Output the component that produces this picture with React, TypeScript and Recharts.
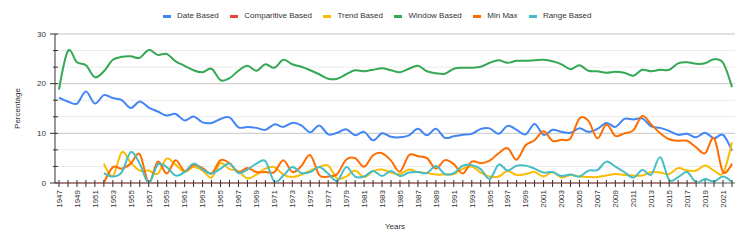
import React from 'react';
import { LineChart, Line, XAxis, YAxis, CartesianGrid, ReferenceLine } from 'recharts';

const FONT = "'Liberation Sans', Arial, Helvetica, sans-serif";

const YEARS = [
  1947, 1948, 1949, 1950, 1951, 1952, 1953, 1954, 1955, 1956,
  1957, 1958, 1959, 1960, 1961, 1962, 1963, 1964, 1965, 1966,
  1967, 1968, 1969, 1970, 1971, 1972, 1973, 1974, 1975, 1976,
  1977, 1978, 1979, 1980, 1981, 1982, 1983, 1984, 1985, 1986,
  1987, 1988, 1989, 1990, 1991, 1992, 1993, 1994, 1995, 1996,
  1997, 1998, 1999, 2000, 2001, 2002, 2003, 2004, 2005, 2006,
  2007, 2008, 2009, 2010, 2011, 2012, 2013, 2014, 2015, 2016,
  2017, 2018, 2019, 2020, 2021, 2022,
];

const DATE_BASED = [
  17.2, 16.4, 16.0, 18.4, 16.0, 17.7, 17.1, 16.7, 15.1, 16.4,
  15.2, 14.4, 13.6, 13.9, 12.6, 13.4, 12.2, 12.1, 12.9, 13.2,
  11.2, 11.3, 11.1, 10.7, 11.8, 11.3, 12.1, 11.6, 10.2, 11.6,
  9.8, 10.1, 10.8, 9.6, 10.3, 8.6, 10.0, 9.3, 9.2, 9.6,
  10.9, 9.6, 10.9, 9.1, 9.4, 9.7, 9.9, 10.9, 11.0, 9.9,
  11.5, 10.7, 9.8, 11.9, 9.7, 10.7, 10.3, 10.1, 11.0, 10.3,
  10.9, 12.1, 11.3, 12.9, 12.8, 13.0, 11.4, 11.1, 10.5, 9.7,
  9.9, 9.2, 10.1, 9.0, 9.7, 6.5,
];

const COMPARITIVE_BASED = [
  0, 0, 0, 0, 0, 0, 0, 0, 0, 0,
  0, 0, 0, 0, 0, 0, 0, 0, 0, 0,
  0, 0, 0, 0, 0, 0, 0, 0, 0, 0,
  0, 0, 0, 0, 0, 0, 0, 0, 0, 0,
  0, 0, 0, 0, 0, 0, 0, 0, 0, 0,
  0, 0, 0, 0, 0, 0, 0, 0, 0, 0,
  0, 0, 0, 0, 0, 0, 0, 0, 0, 0,
  0, 0, null, null, null, null,
];

const TREND_BASED = [
  null, null, null, null, null, 3.9, 1.4, 6.2, 4.1, 2.5,
  2.5, 1.9, 4.9, 3.7, 2.2, 3.2, 2.5, 1.1, 4.0, 2.8,
  2.4, 0.9, 1.7, 2.9, 3.2, 1.7, 1.2, 1.7, 2.5, 3.2,
  3.5, 0.9, 1.3, 2.5, 1.2, 2.4, 2.7, 2.1, 1.8, 2.7,
  2.2, 2.0, 1.7, 1.7, 1.8, 2.9, 3.3, 2.1, 1.3, 1.3,
  2.4, 1.6, 1.8, 2.2, 1.3, 2.2, 1.1, 1.6, 1.3, 1.2,
  1.2, 1.5, 1.8, 1.6, 1.5, 1.5, 2.2, 2.1, 1.8, 3.0,
  2.5, 2.5, 3.5, 2.5, 2.0, 8.2,
];

const WINDOW_BASED = [
  18.8, 26.6, 24.3, 23.7, 21.3, 22.5, 24.8, 25.4, 25.5, 25.2,
  26.8, 25.8, 26.0, 24.5, 23.6, 22.7, 22.3, 23.0, 20.7, 21.1,
  22.6, 23.6, 22.6, 23.9, 23.2, 24.8, 23.9, 23.4, 22.7, 21.9,
  21.0, 21.0, 21.9, 22.7, 22.5, 22.8, 23.1, 22.7, 22.3, 23.0,
  23.6, 22.5, 22.1, 22.0, 23.0, 23.2, 23.2, 23.4, 24.2, 24.7,
  24.2, 24.6, 24.6, 24.7, 24.8, 24.5, 23.9, 22.9, 23.7, 22.6,
  22.5, 22.2, 22.4, 22.2, 21.6, 22.8, 22.5, 22.8, 22.8, 24.1,
  24.3, 24.0, 24.1, 24.9, 24.2, 19.3,
];

const MIN_MAX = [
  null, null, null, null, null, 0, 3.2, 2.9, 3.9, 5.8,
  0.1, 4.3, 1.9, 4.6, 2.4, 3.6, 3.0, 1.9, 4.6, 4.0,
  2.2, 3.0, 2.2, 2.2, 2.2, 4.6, 2.2, 3.4, 5.6, 1.6,
  1.3, 1.8, 4.7, 5.0, 3.3, 5.6, 6.0, 4.5, 2.3, 5.6,
  5.4, 5.0, 2.9, 4.6, 3.8, 1.9, 4.3, 4.0, 4.5, 6.0,
  7.0, 4.7, 7.6, 8.6, 10.4, 8.5, 8.7, 9.0, 13.0, 12.5,
  9.0, 11.8, 9.5, 10.0, 10.6, 13.5, 11.8, 10.0, 8.8, 8.5,
  8.5, 7.2, 6.0, 9.0, 2.2, 3.9,
];

const RANGE_BASED = [
  null, null, null, null, null, 2.0, 1.3, 2.2, 6.2, 3.9,
  0, 3.7, 3.2, 1.5, 2.2, 3.9, 2.7, 1.9, 2.9, 3.9,
  2.0, 2.7, 3.9, 4.4, 0.3, 1.5, 3.2, 2.0, 2.2, 3.2,
  1.9, 0.4, 3.2, 1.3, 1.3, 2.4, 1.4, 2.4, 1.4, 2.1,
  2.2, 2.0, 3.4, 1.8, 2.0, 3.5, 3.6, 2.8, 0.8, 3.7,
  2.5, 3.5, 3.5, 2.9, 2.1, 2.2, 1.4, 1.7, 1.3, 2.5,
  2.6, 4.3, 3.3, 2.2, 1.1, 2.6, 1.7, 5.2, 0.6, 1.2,
  2.2, 0.1, 0.8, 0.3, 1.3, 0.2,
];

const SERIES_NAMES = ['Date Based', 'Comparitive Based', 'Trend Based', 'Window Based', 'Min Max', 'Range Based'];
const SERIES_KEYS = ['date', 'comparitive', 'trend', 'window', 'minmax', 'range'];
const SERIES_COLORS = ['#4285F4', '#EA4335', '#FBBC04', '#34A853', '#FF6D01', '#46BDC6'];
const SERIES_VALUES = [DATE_BASED, COMPARITIVE_BASED, TREND_BASED, WINDOW_BASED, MIN_MAX, RANGE_BASED];

const Y_TICKS = [0, 10 / 3, 20 / 3, 10, 40 / 3, 50 / 3, 20, 70 / 3, 80 / 3, 30];
const Y_MAJOR = [10, 20, 30];

const data = YEARS.map((year, i) => {
  const row: Record<string, number | null> = { year };
  SERIES_KEYS.forEach((k, s) => {
    row[k] = SERIES_VALUES[s][i];
  });
  return row;
});

// Catmull-Rom (cardinal, tension 0) curve factory
function catmullRom(context: any) {
  const k = 1 / 6;
  const st: any = { _line: NaN, _point: 0, _x0: NaN, _x1: NaN, _x2: NaN, _y0: NaN, _y1: NaN, _y2: NaN };
  const seg = (x: number, y: number) => {
    context.bezierCurveTo(
      st._x1 + k * (st._x2 - st._x0),
      st._y1 + k * (st._y2 - st._y0),
      st._x2 + k * (st._x1 - x),
      st._y2 + k * (st._y1 - y),
      st._x2,
      st._y2
    );
  };
  return {
    areaStart() { st._line = 0; },
    areaEnd() { st._line = NaN; },
    lineStart() {
      st._x0 = st._x1 = st._x2 = st._y0 = st._y1 = st._y2 = NaN;
      st._point = 0;
    },
    lineEnd() {
      switch (st._point) {
        case 2: context.lineTo(st._x2, st._y2); break;
        case 3: seg(st._x1, st._y1); break;
      }
      if (st._line || (st._line !== 0 && st._point === 1)) context.closePath();
      st._line = 1 - st._line;
    },
    point(x: number, y: number) {
      x = +x; y = +y;
      switch (st._point) {
        case 0: st._point = 1; st._line ? context.lineTo(x, y) : context.moveTo(x, y); break;
        case 1: st._point = 2; st._x1 = x; st._y1 = y; break;
        case 2: st._point = 3; seg(x, y); break;
        default: seg(x, y); break;
      }
      st._x0 = st._x1; st._x1 = st._x2; st._x2 = x;
      st._y0 = st._y1; st._y1 = st._y2; st._y2 = y;
    },
  };
}

const XTick = (props: any) => {
  const { x, y, payload } = props;
  const yr = Number(payload.value);
  const ty = y + 7;
  return (
    <g>
      <line x1={x} x2={x} y1={y - 3} y2={y + 4} stroke="#333" strokeWidth={1} />
      {yr % 2 === 1 && (
        <text
          x={x}
          y={ty}
          transform={`rotate(-90 ${x} ${ty})`}
          textAnchor="end"
          dy="0.35em"
          fontSize={8}
          fill="#333"
          fontFamily={FONT}
        >
          {yr}
        </text>
      )}
    </g>
  );
};

const YTick = (props: any) => {
  const { x, y, payload } = props;
  const v = Number(payload.value);
  const major = Math.abs(v / 10 - Math.round(v / 10)) < 1e-6;
  return (
    <g>
      {major ? (
        <line x1={x - 5} x2={x + 3} y1={y} y2={y} stroke="#333" strokeWidth={1} />
      ) : (
        <line x1={x - 2} x2={x + 3} y1={y} y2={y} stroke="#333" strokeWidth={1} />
      )}
      {major && (
        <text x={x - 9} y={y} dy="0.35em" textAnchor="end" fontSize={8} fill="#333" fontFamily={FONT}>
          {Math.round(v)}
        </text>
      )}
    </g>
  );
};

const YLabel = (props: any) => {
  const vb = props.viewBox || { y: 34, height: 149 };
  const cx = 17;
  const cy = vb.y + vb.height / 2;
  return (
    <text
      x={cx}
      y={cy}
      transform={`rotate(-90 ${cx} ${cy})`}
      textAnchor="middle"
      dy="0.35em"
      fontSize={8}
      fill="#333"
      fontFamily={FONT}
    >
      Percentage
    </text>
  );
};

const LegendBox = () => (
  <div
    style={{
      position: 'absolute',
      left: 163,
      top: 10,
      height: 12,
      display: 'flex',
      alignItems: 'center',
      fontFamily: FONT,
      fontSize: 8,
      color: '#333',
      lineHeight: '12px',
      whiteSpace: 'nowrap',
    }}
  >
    {SERIES_NAMES.map((name, i) => (
      <div key={name} style={{ display: 'flex', alignItems: 'center', marginRight: 11.5 }}>
        <span style={{ display: 'inline-block', width: 8, height: 3, background: SERIES_COLORS[i], marginRight: 6 }} />
        <span>{name}</span>
      </div>
    ))}
  </div>
);

export default function App() {
  return (
    <div style={{ position: 'absolute', left: 0, top: 0, width: 747, height: 242, background: '#fff' }}>
      <LineChart width={747} height={242} data={data} margin={{ top: 34, right: 12, bottom: 0, left: 0 }}>
        <CartesianGrid vertical={false} stroke="#ebebeb" />
        {Y_MAJOR.map((v) => (
          <ReferenceLine key={v} y={v} stroke="#cccccc" strokeWidth={1} />
        ))}
        <XAxis
          dataKey="year"
          type="category"
          interval={0}
          height={59}
          padding={{ left: 4, right: 3 }}
          tickLine={false}
          tickSize={0}
          tickMargin={0}
          tick={<XTick />}
          axisLine={{ stroke: '#999', strokeWidth: 1.5 }}
          label={{ value: 'Years', position: 'insideBottom', offset: 13.5, fontSize: 8, fill: '#333', fontFamily: FONT }}
        />
        <YAxis
          width={55}
          domain={[0, 30]}
          ticks={Y_TICKS}
          interval={0}
          tickLine={false}
          tickSize={0}
          tickMargin={0}
          tick={<YTick />}
          axisLine={{ stroke: '#333', strokeWidth: 1 }}
          label={<YLabel />}
        />
        {SERIES_KEYS.map((k, i) => (
          <Line
            key={k}
            dataKey={k}
            name={SERIES_NAMES[i]}
            stroke={SERIES_COLORS[i]}
            strokeWidth={2}
            dot={false}
            activeDot={false}
            type={catmullRom as any}
            isAnimationActive={false}
          />
        ))}
      </LineChart>
      <LegendBox />
    </div>
  );
}
